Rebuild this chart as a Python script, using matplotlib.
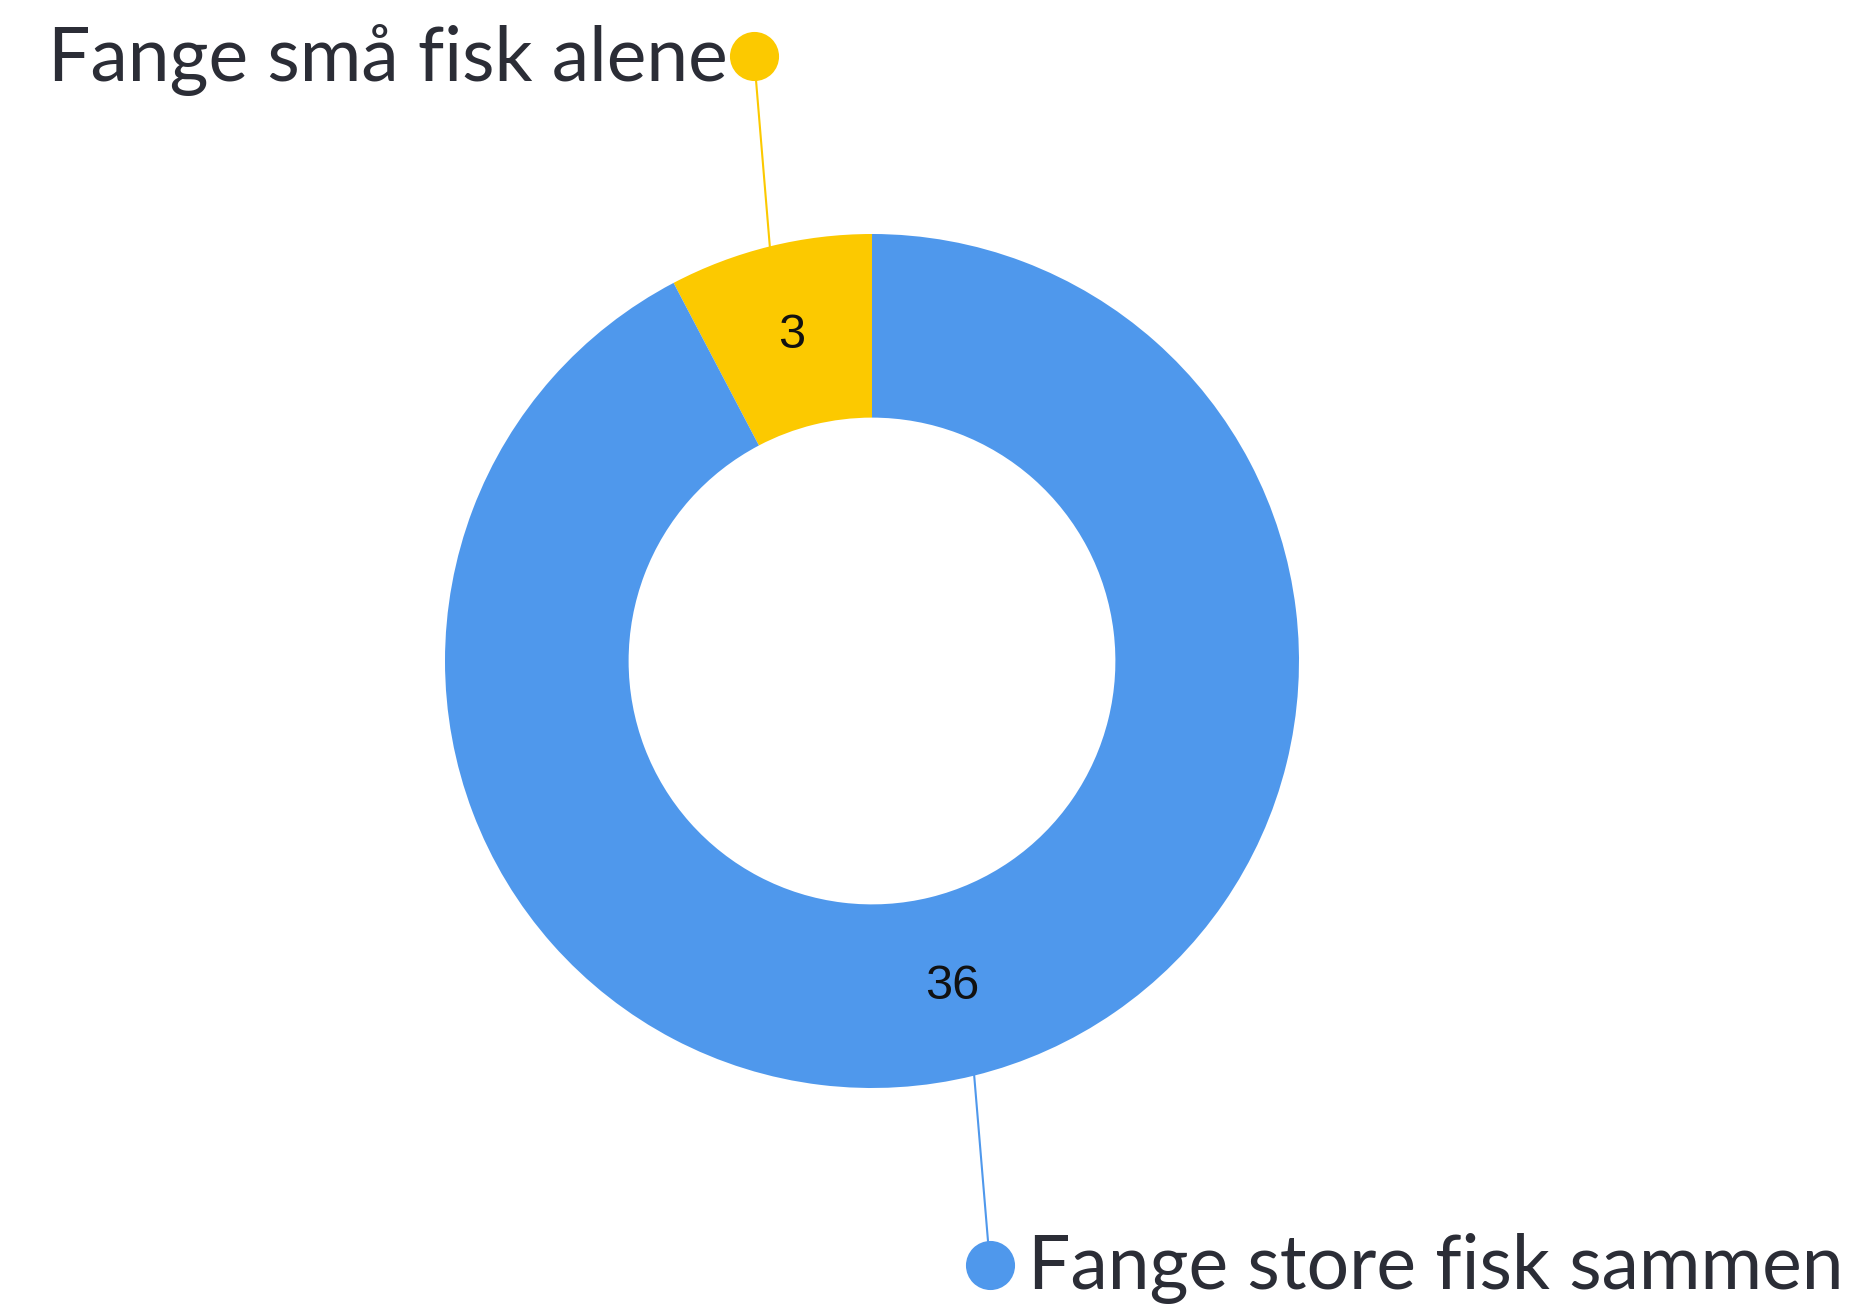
import numpy as np
import matplotlib.pyplot as plt

# Answers and counts
labels = ["Fange små fisk alene", "Fange store fisk sammen"]
counts = [3, 36]
colors = ["#FCC900", "#4F98EC"]

W, H = 1861, 1305
fig = plt.figure(figsize=(W / 100, H / 100), dpi=100)
ax = fig.add_axes([0, 0, 1, 1])

cx, cy, R = 872, 644, 427
ring = 0.43

wedges, _ = ax.pie(counts, colors=colors, startangle=90, counterclock=True,
                   center=(cx, cy), radius=R, frame=True,
                   wedgeprops=dict(width=R * ring, linewidth=0))
ax.set_xlim(0, W)
ax.set_ylim(0, H)
ax.set_aspect("equal")
ax.axis("off")

# value labels in the middle of the ring
rmid = R * (1 - ring / 2)
for w, n in zip(wedges, counts):
    ang = np.deg2rad((w.theta1 + w.theta2) / 2)
    ax.text(cx + rmid * np.cos(ang), cy + rmid * np.sin(ang), str(n),
            ha="center", va="center", fontsize=35, color="#111111",
            family="Liberation Sans")

# callouts: leader line from ring edge to a dot next to the category name
dots = [(754, H - 56), (990, H - 1265)]
for w, lab, col, (dx, dy) in zip(wedges, labels, colors, dots):
    ang = np.deg2rad((w.theta1 + w.theta2) / 2)
    ex, ey = cx + R * np.cos(ang), cy + R * np.sin(ang)
    ax.plot([ex, dx], [ey, dy], color=col, lw=1.5, zorder=1)
    ax.scatter([dx], [dy], s=1250, color=col, zorder=3, linewidths=0)
    if dx < cx:
        ax.text(dx - 26, dy - 4, lab, ha="right", va="center", fontsize=54,
                color="#2B2D36", family="Lato")
    else:
        ax.text(dx + 38, dy - 4, lab, ha="left", va="center", fontsize=54,
                color="#2B2D36", family="Lato")

fig.savefig("out.png", dpi=100, facecolor="white")
